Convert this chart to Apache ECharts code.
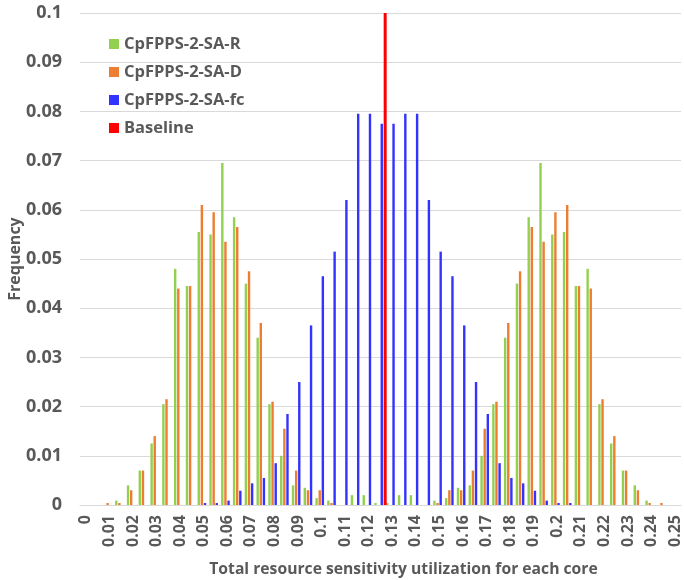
<!DOCTYPE html>
<html><head><meta charset="utf-8">
<script src="https://cdn.jsdelivr.net/npm/echarts@6/dist/echarts.min.js"></script>
<style>html,body{margin:0;padding:0;background:#fff}#c{width:684px;height:580px}</style>
</head><body><div id="c"></div>
<script>
var categories = ['0','0.005','0.01','0.015','0.02','0.025','0.03','0.035','0.04','0.045','0.05','0.055','0.06','0.065','0.07','0.075','0.08','0.085','0.09','0.095','0.1','0.105','0.11','0.115','0.12','0.125','0.13','0.135','0.14','0.145','0.15','0.155','0.16','0.165','0.17','0.175','0.18','0.185','0.19','0.195','0.2','0.205','0.21','0.215','0.22','0.225','0.23','0.235','0.24','0.245','0.25'];
var seriesR = [0,0,0,0.0009,0.004,0.007,0.0125,0.0205,0.048,0.0445,0.0555,0.055,0.0695,0.0585,0.045,0.034,0.0205,0.01,0.004,0.0035,0.0014,0.0009,0,0.002,0.002,0.0004,0.0004,0.002,0.002,0,0.0009,0.0014,0.0035,0.004,0.01,0.0205,0.034,0.045,0.0585,0.0695,0.055,0.0555,0.0445,0.048,0.0205,0.0125,0.007,0.004,0.0009,0,0];
var seriesD = [0,0,0.0004,0.0004,0.003,0.007,0.014,0.0215,0.044,0.0445,0.061,0.0595,0.0535,0.0565,0.0475,0.037,0.021,0.0155,0.007,0.003,0.003,0.0004,0,0,0,0,0,0,0,0,0.0004,0.003,0.003,0.007,0.0155,0.021,0.037,0.0475,0.0565,0.0535,0.0595,0.061,0.0445,0.044,0.0215,0.014,0.007,0.003,0.0004,0.0004,0];
var seriesFc = [0,0,0,0,0,0,0,0,0,0,0.0004,0.0004,0.0009,0.0029,0.0044,0.0055,0.0085,0.0185,0.025,0.0365,0.0465,0.0515,0.062,0.0795,0.0795,0.0775,0.0775,0.0795,0.0795,0.062,0.0515,0.0465,0.0365,0.025,0.0185,0.0085,0.0055,0.0044,0.0029,0.0009,0.0004,0.0004,0,0,0,0,0,0,0,0,0];
var seriesBaseline = [0,0,0,0,0,0,0,0,0,0,0,0,0,0,0,0,0,0,0,0,0,0,0,0,0,0.1,0,0,0,0,0,0,0,0,0,0,0,0,0,0,0,0,0,0,0,0,0,0,0,0,0];
var seriesNames = ['CpFPPS-2-SA-R','CpFPPS-2-SA-D','CpFPPS-2-SA-fc','Baseline'];
var colors = ['#92d050','#ed7d31','#3333ff','#ff0000'];

var FONT = 'Open Sans';
var TXT = '#595959';
var chart = echarts.init(document.getElementById('c'), null, {renderer:'canvas'});
function mk(name, data, color, w){
  return {name:name, type:'bar', data:data, barWidth:w, barGap:'30%', itemStyle:{color:color}, animation:false};
}
chart.setOption({
  animation:false,
  color: colors,
  grid:{left:80, right:3, top:13, bottom:75, containLabel:false, outerBoundsMode:'none'},
  legend:{
    orient:'vertical', left:104, top:30, icon:'rect', itemWidth:10, itemHeight:10, itemGap:10,
    textStyle:{fontFamily:FONT, fontWeight:'bold', fontSize:16.5, color:TXT, lineHeight:18},
    data: seriesNames
  },
  xAxis:{
    type:'category', data:categories, boundaryGap:true,
    axisLine:{show:true, lineStyle:{color:'#d9d9d9'}}, axisTick:{show:false},
    axisLabel:{interval:1, rotate:90, fontFamily:FONT, fontWeight:'bold', fontSize:16, color:TXT, margin:10},
    name:'Total resource sensitivity utilization for each core', nameLocation:'middle', nameGap:57,
    nameMoveOverlap:false,
    nameTextStyle:{fontFamily:FONT, fontWeight:'bold', fontSize:15.7, color:TXT, padding:[0,0,0,46]}
  },
  yAxis:{
    type:'value', min:0, max:0.1, interval:0.01,
    axisLine:{show:false}, axisTick:{show:false},
    splitLine:{lineStyle:{color:'#d9d9d9'}},
    axisLabel:{fontFamily:FONT, fontWeight:'bold', fontSize:18, color:TXT, margin:18,
      formatter:function(v){return String(Math.round(v*100)/100);}},
    name:'Frequency', nameLocation:'middle', nameGap:57, nameRotate:90,
    nameMoveOverlap:false,
    nameTextStyle:{fontFamily:FONT, fontWeight:'bold', fontSize:16, color:TXT}
  },
  series:[
    mk(seriesNames[0], seriesR, colors[0], 2.4),
    mk(seriesNames[1], seriesD, colors[1], 2.4),
    mk(seriesNames[2], seriesFc, colors[2], 2.4),
    mk(seriesNames[3], seriesBaseline, colors[3], 3)
  ]
});
</script></body></html>
